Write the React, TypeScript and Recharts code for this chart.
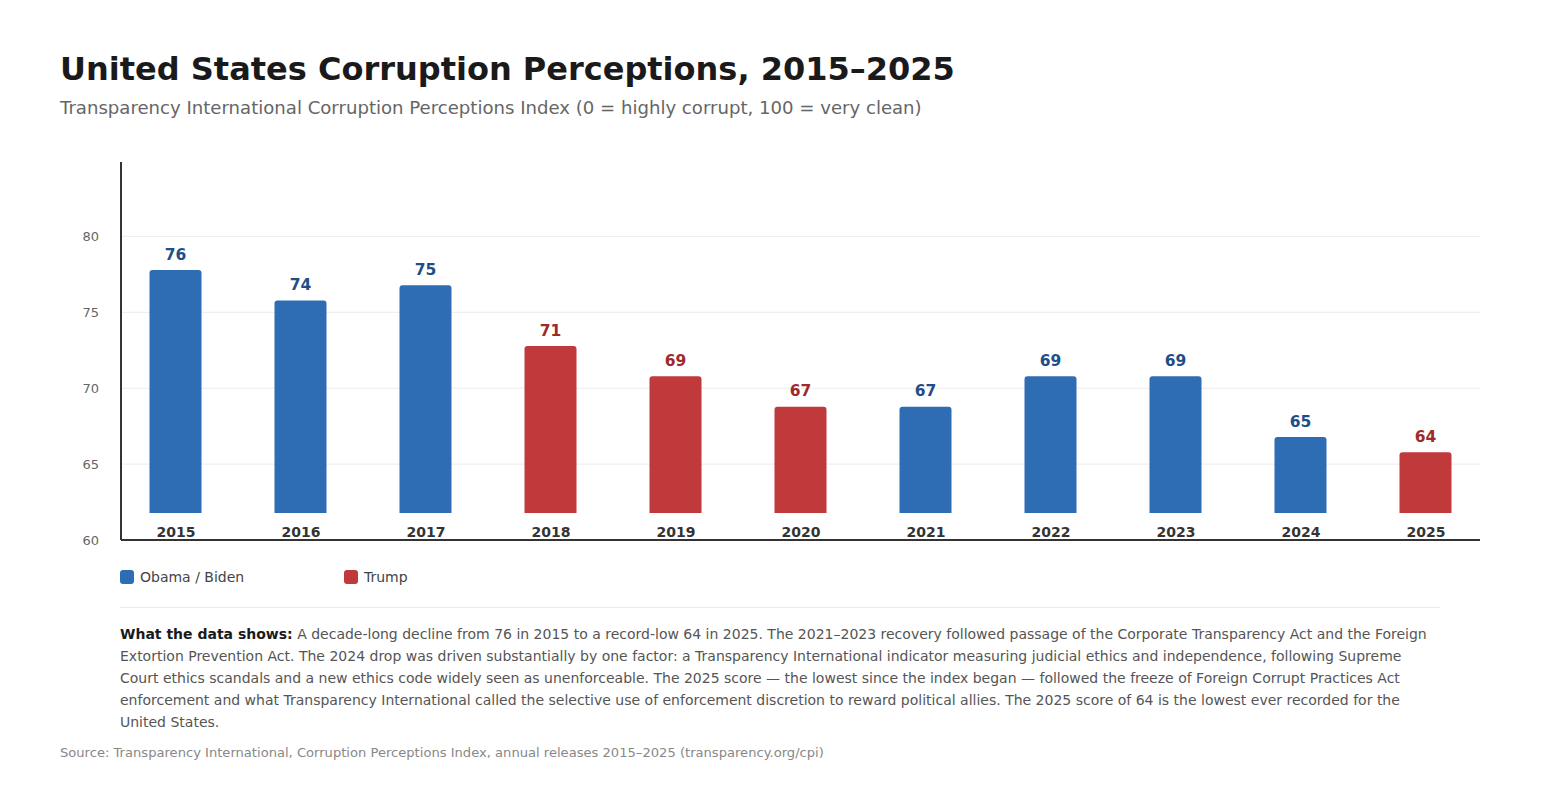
import { BarChart, Bar, XAxis, YAxis, CartesianGrid, LabelList } from "recharts";

const YEARS = ["2015", "2016", "2017", "2018", "2019", "2020", "2021", "2022", "2023", "2024", "2025"];
const SCORES = [76, 74, 75, 71, 69, 67, 67, 69, 69, 65, 64];
const PARTY = ["dem", "dem", "dem", "gop", "gop", "gop", "dem", "dem", "dem", "dem", "gop"];
const Y_TICKS = [60, 65, 70, 75, 80];

const BAR_COLORS: Record<string, string> = { dem: "#2e6db3", gop: "#c0393b" };
const LABEL_COLORS: Record<string, string> = { dem: "#1f4e89", gop: "#9e2a2b" };

const FONT = "'DejaVu Sans', sans-serif";
const LIFT = 27; // bars sit above the year labels

const data = YEARS.map((year, i) => ({ idx: i, year, score: SCORES[i], party: PARTY[i] }));

function LiftedBar(props: any) {
  const { x, y, width, height, payload } = props;
  const top = y - LIFT;
  const bottom = y + height - LIFT;
  const r = 3;
  const d = `M${x},${bottom} L${x},${top + r} Q${x},${top} ${x + r},${top} L${x + width - r},${top} Q${x + width},${top} ${x + width},${top + r} L${x + width},${bottom} Z`;
  return <path d={d} fill={BAR_COLORS[payload.party]} />;
}

function ValueLabel(props: any) {
  const { x, y, width, value, index } = props;
  return (
    <text
      x={x + width / 2}
      y={y - LIFT - 10.5}
      textAnchor="middle"
      fontFamily={FONT}
      fontSize={15.5}
      fontWeight="bold"
      fill={LABEL_COLORS[PARTY[index]]}
    >
      {value}
    </text>
  );
}

function YearTick(props: any) {
  const { x, y, payload } = props;
  return (
    <text x={x} y={y - 3.5} textAnchor="middle" fontFamily={FONT} fontSize={14} fontWeight="bold" fill="#333">
      {YEARS[payload.value]}
    </text>
  );
}

const abs = (top: number, left: number): React.CSSProperties => ({ position: "absolute", top, left });

export default function App() {
  return (
    <div style={{ position: "absolute", top: 0, left: 0, width: 1560, height: 801, background: "#fff", fontFamily: FONT }}>
      <div style={{ ...abs(49.5, 60), fontSize: 32, lineHeight: "38px", fontWeight: "bold", color: "#1a1a1a", whiteSpace: "nowrap" }}>
        United States Corruption Perceptions, 2015–2025
      </div>
      <div style={{ ...abs(96, 60), fontSize: 18.1, lineHeight: "24px", color: "#666", whiteSpace: "nowrap" }}>
        Transparency International Corruption Perceptions Index (0 = highly corrupt, 100 = very clean)
      </div>

      <div style={abs(150, 0)}>
        <BarChart width={1560} height={410} data={data} margin={{ top: 12, right: 80, bottom: 0, left: 0 }}>
          <CartesianGrid horizontal vertical={false} stroke="#ebebeb" horizontalValues={Y_TICKS} />
          <YAxis
            domain={[60, 84.9]}
            ticks={Y_TICKS}
            width={121}
            tickSize={0}
            tickMargin={22}
            tickLine={false}
            axisLine={{ stroke: "#333", strokeWidth: 2 }}
            tick={{ fill: "#666", fontSize: 13, fontFamily: FONT }}
          />
          <XAxis
            type="number"
            dataKey="idx"
            domain={[-0.44, 10.432]}
            ticks={YEARS.map((_, i) => i)}
            interval={0}
            height={20}
            tickSize={0}
            tickMargin={0}
            tickLine={false}
            axisLine={{ stroke: "#333", strokeWidth: 2 }}
            tick={<YearTick />}
          />
          <Bar dataKey="score" barSize={52} shape={<LiftedBar />} isAnimationActive={false}>
            <LabelList dataKey="score" content={<ValueLabel />} />
          </Bar>
        </BarChart>
      </div>

      <div style={{ ...abs(570, 120), display: "flex", alignItems: "center", fontSize: 14, color: "#444" }}>
        <span style={{ width: 14, height: 14, borderRadius: 3, background: BAR_COLORS.dem, marginRight: 6 }} />
        <span style={{ lineHeight: "14px" }}>Obama / Biden</span>
      </div>
      <div style={{ ...abs(570, 344), display: "flex", alignItems: "center", fontSize: 14, color: "#444" }}>
        <span style={{ width: 14, height: 14, borderRadius: 3, background: BAR_COLORS.gop, marginRight: 6 }} />
        <span style={{ lineHeight: "14px" }}>Trump</span>
      </div>

      <div style={{ ...abs(607, 120), width: 1320, borderTop: "1px solid #eaeaea" }} />

      <div style={{ ...abs(623, 120), width: 1320, fontSize: 14, lineHeight: "22px", color: "#555" }}>
        <b style={{ color: "#1a1a1a" }}>What the data shows:</b> A decade-long decline from 76 in 2015 to a record-low 64 in
        2025. The 2021–2023 recovery followed passage of the Corporate Transparency Act and the Foreign Extortion
        Prevention Act. The 2024 drop was driven substantially by one factor: a Transparency International indicator
        measuring judicial ethics and independence, following Supreme Court ethics scandals and a new ethics code widely
        seen as unenforceable. The 2025 score — the lowest since the index began — followed the freeze of Foreign Corrupt
        Practices Act enforcement and what Transparency International called the selective use of enforcement discretion
        to reward political allies. The 2025 score of 64 is the lowest ever recorded for the United States.
      </div>

      <div style={{ ...abs(743.5, 60), fontSize: 13.1, lineHeight: "18px", color: "#888", whiteSpace: "nowrap" }}>
        Source: Transparency International, Corruption Perceptions Index, annual releases 2015–2025 (transparency.org/cpi)
      </div>
    </div>
  );
}
